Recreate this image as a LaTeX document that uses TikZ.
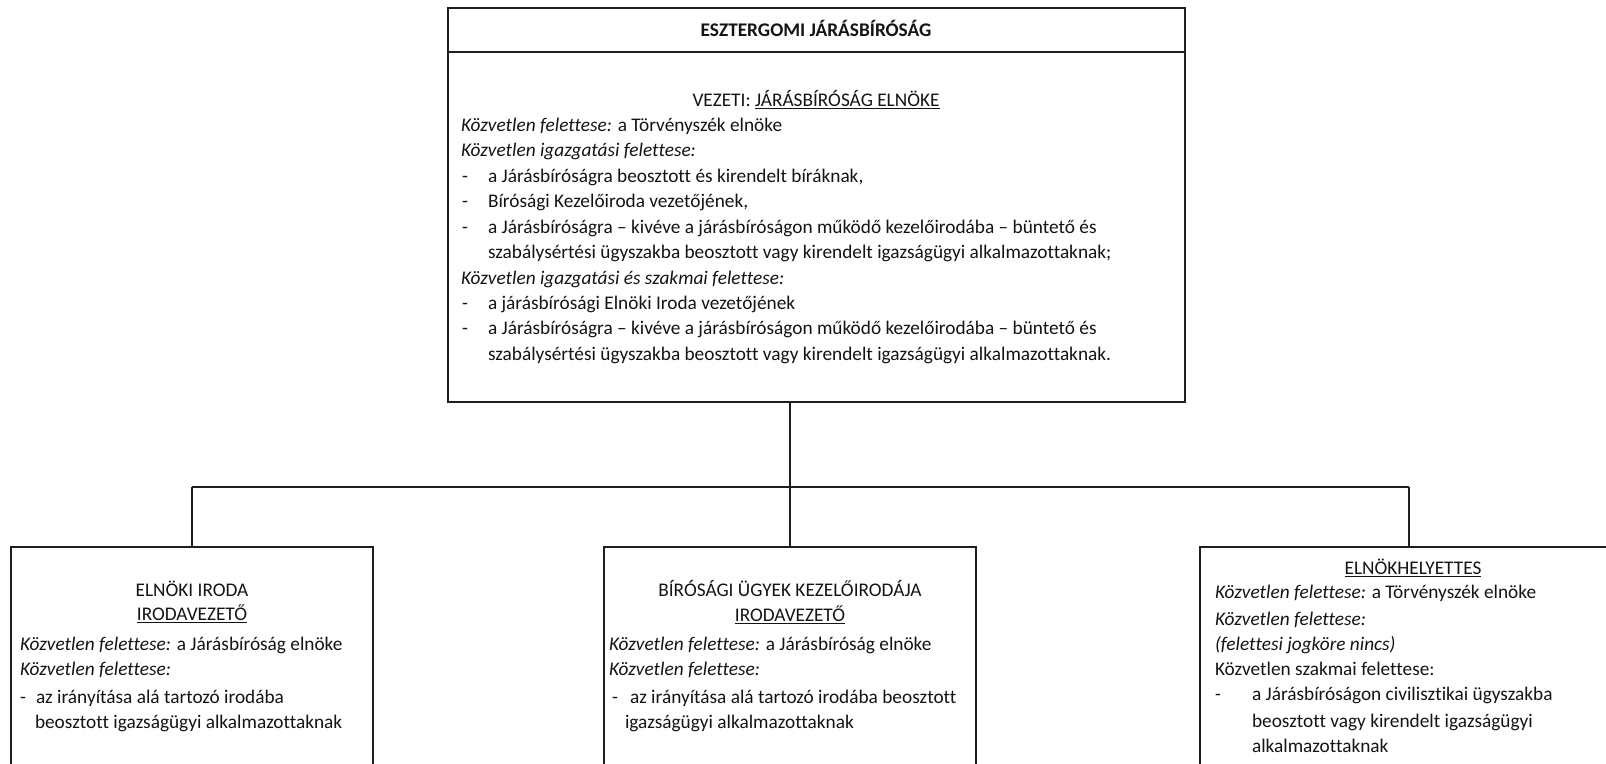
\documentclass[tikz,border=0pt]{standalone}
\usepackage{fontspec}
\setmainfont[Ligatures={TeX,NoCommon}]{Carlito}
\newcommand\fsz{\fontsize{19.3}{25.4}\selectfont}
\newcommand\myul[1]{\setbox0\hbox{#1}\rlap{\rule[-3.2pt]{\wd0}{1.3pt}}\box0}
\begin{document}
\begin{tikzpicture}[x=1pt,y=-1pt,
  box/.style={draw=black!88,line width=1.6pt,anchor=north west,inner sep=0pt,outer sep=0pt},
  conn/.style={draw=black!88,line width=1.5pt},
  lt/.style={anchor=base west,inner sep=0pt,outer sep=0pt,text=black!92,font=\fsz},
  ct/.style={anchor=base,inner sep=0pt,outer sep=0pt,text=black!92,font=\fsz}]
\useasboundingbox (0,0) rectangle (1606,763);
\fill[white] (0,0) rectangle (1606,763);
\clip (0,0) rectangle (1606,763);

% boxes
\node[box,minimum width=737pt,minimum height=394pt] (top) at (448,8) {};
\node[box,minimum width=362pt,minimum height=260pt] (b1) at (11,547) {};
\node[box,minimum width=372pt,minimum height=260pt] (b2) at (604,547) {};
\node[box,minimum width=418pt,minimum height=260pt] (b3) at (1200,547) {};
\draw[conn] ([yshift=-44pt]top.north west) -- ([yshift=-44pt]top.north east);

% connectors
\coordinate (bar) at (0,487);
\draw[conn] (top.south -| b2.north) -- (b2.north);
\draw[conn] (b1.north |- bar) -- (b3.north |- bar);
\draw[conn] (b1.north |- bar) -- (b1.north);
\draw[conn] (b3.north |- bar) -- (b3.north);

% top box text
\node[ct] (title) at (816,36) {\bfseries ESZTERGOMI JÁRÁSBÍRÓSÁG};
\node[ct] (vez) at (816,106) {VEZETI: \myul{JÁRÁSBÍRÓSÁG ELNÖKE}};
\node[lt] (t1) at (461,131) {\textit{Közvetlen felettese:} a Törvényszék elnöke};
\node[lt] (t2) at (461,156.5) {\textit{Közvetlen igazgatási felettese:}};
\node[lt] (d3) at (462,182) {-};
\node[lt] (t3) at (488,182) {a Járásbíróságra beosztott és kirendelt bíráknak,};
\node[lt] (d4) at (462,207) {-};
\node[lt] (t4) at (488,207) {Bírósági Kezelőiroda vezetőjének,};
\node[lt] (d5) at (462,233) {-};
\node[lt] (t5) at (488,233) {a Járásbíróságra – kivéve a járásbíróságon működő kezelőirodába – büntető és};
\node[lt] (t6) at (488,258) {szabálysértési ügyszakba beosztott vagy kirendelt igazságügyi alkalmazottaknak;};
\node[lt] (t7) at (461,284) {\textit{Közvetlen igazgatási és szakmai felettese:}};
\node[lt] (d8) at (462,309) {-};
\node[lt] (t8) at (488,309) {a járásbírósági Elnöki Iroda vezetőjének};
\node[lt] (d9) at (462,334) {-};
\node[lt] (t9) at (488,334) {a Járásbíróságra – kivéve a járásbíróságon működő kezelőirodába – büntető és};
\node[lt] (t10) at (488,360) {szabálysértési ügyszakba beosztott vagy kirendelt igazságügyi alkalmazottaknak.};

% box 1
\node[ct] (e1) at (192,596) {ELNÖKI IRODA};
\node[ct] (e2) at (192,620) {\myul{IRODAVEZETŐ}};
\node[lt] (e3) at (20,650) {\textit{Közvetlen felettese:} a Járásbíróság elnöke};
\node[lt] (e4) at (20,675) {\textit{Közvetlen felettese:}};
\node[lt] (e5d) at (20,703) {-};
\node[lt] (e5) at (36,703) {az irányítása alá tartozó irodába};
\node[lt] (e6) at (35,728) {beosztott igazságügyi alkalmazottaknak};

% box 2
\node[ct] (k1) at (790,596) {BÍRÓSÁGI ÜGYEK KEZELŐIRODÁJA};
\node[ct] (k2) at (790,621) {\myul{IRODAVEZETŐ}};
\node[lt] (k3) at (609,650) {\textit{Közvetlen felettese:} a Járásbíróság elnöke};
\node[lt] (k4) at (609,675) {\textit{Közvetlen felettese:}};
\node[lt] (k5d) at (612,703) {-};
\node[lt] (k5) at (630,703) {az irányítása alá tartozó irodába beosztott};
\node[lt] (k6) at (625,728) {igazságügyi alkalmazottaknak};

% box 3
\node[ct] (h1) at (1413,574) {\myul{ELNÖKHELYETTES}};
\node[lt] (h2) at (1215,598) {\textit{Közvetlen felettese:} a Törvényszék elnöke};
\node[lt] (h3) at (1215,625) {\textit{Közvetlen felettese:}};
\node[lt] (h4) at (1215,650) {\textit{(felettesi jogköre nincs)}};
\node[lt] (h5) at (1215,675) {Közvetlen szakmai felettese:};
\node[lt] (h6d) at (1215,700) {-};
\node[lt] (h6) at (1252,700) {a Járásbíróságon civilisztikai ügyszakba};
\node[lt] (h7) at (1252,727) {beosztott vagy kirendelt igazságügyi};
\node[lt] (h8) at (1252,752) {alkalmazottaknak};
\end{tikzpicture}
\end{document}
